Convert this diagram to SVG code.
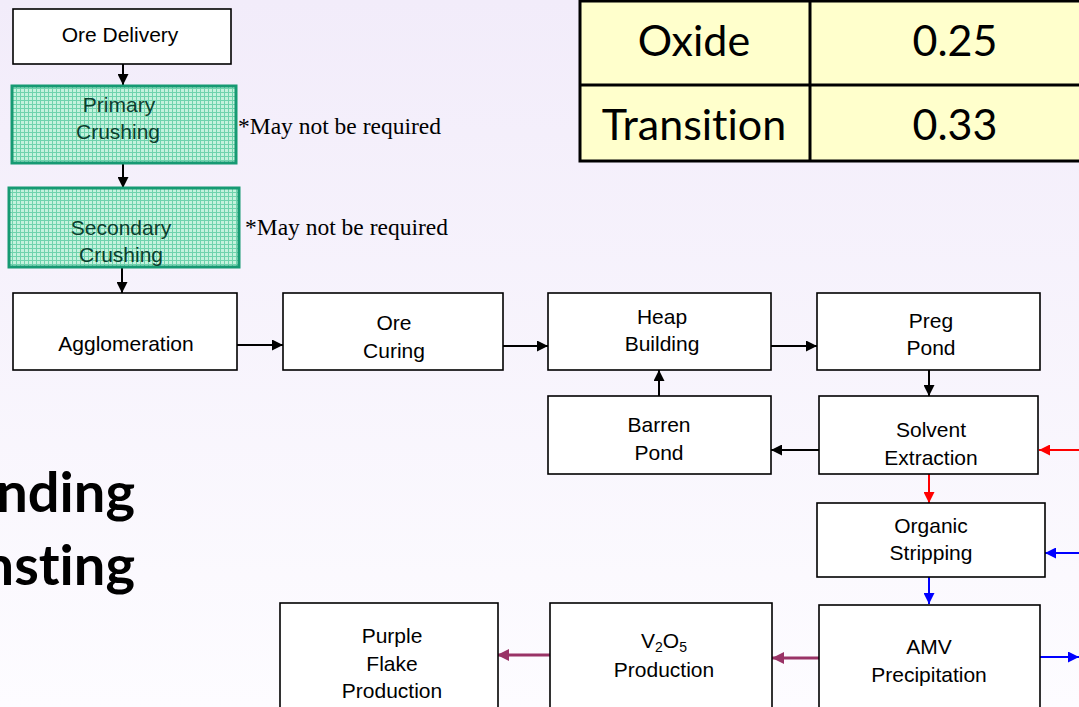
<svg xmlns="http://www.w3.org/2000/svg" width="1079" height="707" viewBox="0 0 1079 707">
<style>
.box{fill:#fff;stroke:#000;stroke-width:1.6}
.crush{fill:url(#grid);stroke:#169a73;stroke-width:3}
.t{font-family:Arial,"Liberation Sans",sans-serif;font-size:21px;fill:#000;text-anchor:middle}
.tg{fill:#0b3f2e}
.note{font-family:"Liberation Serif","Times New Roman",serif;font-size:23.5px;fill:#000}
.tab{font-family:Lato,"Open Sans",sans-serif;font-size:43px;fill:#000;text-anchor:middle;font-variant-ligatures:none}
.big{font-family:Lato,"Open Sans",sans-serif;font-weight:bold;font-size:56px;fill:#000;text-anchor:end;font-variant-ligatures:none}
.k{stroke:#000;stroke-width:2;fill:none;marker-end:url(#ak)}
.r{stroke:#ff0000;stroke-width:2;fill:none;marker-end:url(#ar)}
.b{stroke:#0000ff;stroke-width:2;fill:none;marker-end:url(#ab)}
.p{stroke:#993366;stroke-width:3;fill:none;marker-end:url(#ap)}
</style>
<defs>
<linearGradient id="bg" x1="0" y1="0" x2="0" y2="1">
<stop offset="0" stop-color="#f2ecfa"/>
<stop offset="1" stop-color="#fdfcff"/>
</linearGradient>
<pattern id="grid" width="4" height="4" patternUnits="userSpaceOnUse">
<rect width="4" height="4" fill="#c4f2dd"/>
<path d="M0 0.5H4M0.5 0V4" stroke="#6fd3ad" stroke-width="1"/>
</pattern>
<marker id="ak" viewBox="0 0 10 10" refX="10" refY="5" markerWidth="11" markerHeight="11" markerUnits="userSpaceOnUse" orient="auto"><path d="M0 0L10 5L0 10z" fill="#000"/></marker>
<marker id="ar" viewBox="0 0 10 10" refX="10" refY="5" markerWidth="11" markerHeight="11" markerUnits="userSpaceOnUse" orient="auto"><path d="M0 0L10 5L0 10z" fill="#ff0000"/></marker>
<marker id="ab" viewBox="0 0 10 10" refX="10" refY="5" markerWidth="11" markerHeight="11" markerUnits="userSpaceOnUse" orient="auto"><path d="M0 0L10 5L0 10z" fill="#0000ff"/></marker>
<marker id="ap" viewBox="0 0 10 10" refX="10" refY="5" markerWidth="12" markerHeight="12" markerUnits="userSpaceOnUse" orient="auto"><path d="M0 0L10 5L0 10z" fill="#993366"/></marker>
</defs>
<rect width="1079" height="707" fill="url(#bg)"/>

<g id="title-fragment">
<text class="big" x="135" y="512">nding</text>
<text class="big" x="135" y="585">nsting</text>
</g>

<g id="table">
<rect x="580" y="1" width="505" height="160" fill="#ffffcc" stroke="#000" stroke-width="3"/>
<line x1="580" y1="85" x2="1079" y2="85" stroke="#000" stroke-width="3"/>
<line x1="810" y1="1" x2="810" y2="161" stroke="#000" stroke-width="3"/>
<text class="tab" x="694" y="56">Oxide</text>
<text class="tab" x="955" y="56">0.25</text>
<text class="tab" x="694" y="140">Transition</text>
<text class="tab" x="955" y="140">0.33</text>
</g>

<g id="connectors">
<path class="k" d="M123 64V85"/>
<path class="k" d="M123 163V188"/>
<path class="k" d="M122 267V293"/>
<path class="k" d="M237 345H283"/>
<path class="k" d="M503 346H548"/>
<path class="k" d="M771 346H817"/>
<path class="k" d="M929 370V396"/>
<path class="k" d="M659 396V370"/>
<path class="k" d="M819 450H771"/>
<path class="r" d="M1079 450H1039"/>
<path class="r" d="M929 474V503"/>
<path class="b" d="M1079 553H1045"/>
<path class="b" d="M929 577V604"/>
<path class="b" d="M1040 657H1079"/>
<path class="p" d="M819 658H772"/>
<path class="p" d="M550 655H497"/>
</g>

<g id="ore-delivery">
<rect class="box" x="13" y="9" width="218" height="55"/>
<text class="t" x="120" y="42">Ore Delivery</text>
</g>
<g id="primary-crushing">
<rect class="crush" x="12" y="86" width="224" height="77"/>
<text class="t tg" x="119" y="112">Primary</text>
<text class="t tg" x="118" y="139">Crushing</text>
</g>
<text class="note" x="238" y="134">*May not be required</text>
<g id="secondary-crushing">
<rect class="crush" x="9" y="188" width="230" height="79"/>
<text class="t tg" x="121" y="235">Secondary</text>
<text class="t tg" x="121" y="262">Crushing</text>
</g>
<text class="note" x="245" y="235">*May not be required</text>

<g id="agglomeration">
<rect class="box" x="13" y="293" width="224" height="77"/>
<text class="t" x="126" y="351">Agglomeration</text>
</g>
<g id="ore-curing">
<rect class="box" x="283" y="293" width="220" height="77"/>
<text class="t" x="394" y="330">Ore</text>
<text class="t" x="394" y="358">Curing</text>
</g>
<g id="heap-building">
<rect class="box" x="548" y="293" width="223" height="77"/>
<text class="t" x="662" y="324">Heap</text>
<text class="t" x="662" y="351">Building</text>
</g>
<g id="preg-pond">
<rect class="box" x="817" y="293" width="223" height="77"/>
<text class="t" x="931" y="328">Preg</text>
<text class="t" x="931" y="355">Pond</text>
</g>
<g id="barren-pond">
<rect class="box" x="548" y="396" width="223" height="78"/>
<text class="t" x="659" y="432">Barren</text>
<text class="t" x="659" y="460">Pond</text>
</g>
<g id="solvent-extraction">
<rect class="box" x="819" y="396" width="219" height="78"/>
<text class="t" x="931" y="437">Solvent</text>
<text class="t" x="931" y="465">Extraction</text>
</g>
<g id="organic-stripping">
<rect class="box" x="817" y="503" width="228" height="74"/>
<text class="t" x="931" y="533">Organic</text>
<text class="t" x="931" y="560">Stripping</text>
</g>
<g id="amv-precipitation">
<rect class="box" x="819" y="605" width="221" height="110"/>
<text class="t" x="929" y="654">AMV</text>
<text class="t" x="929" y="682">Precipitation</text>
</g>
<g id="v2o5-production">
<rect class="box" x="550" y="603" width="222" height="112"/>
<text class="t" x="664" y="648">V<tspan font-size="14" dy="4">2</tspan><tspan dy="-4">O</tspan><tspan font-size="14" dy="4">5</tspan></text>
<text class="t" x="664" y="677">Production</text>
</g>
<g id="purple-flake-production">
<rect class="box" x="280" y="603" width="218" height="112"/>
<text class="t" x="392" y="643">Purple</text>
<text class="t" x="392" y="671">Flake</text>
<text class="t" x="392" y="698">Production</text>
</g>
</svg>
